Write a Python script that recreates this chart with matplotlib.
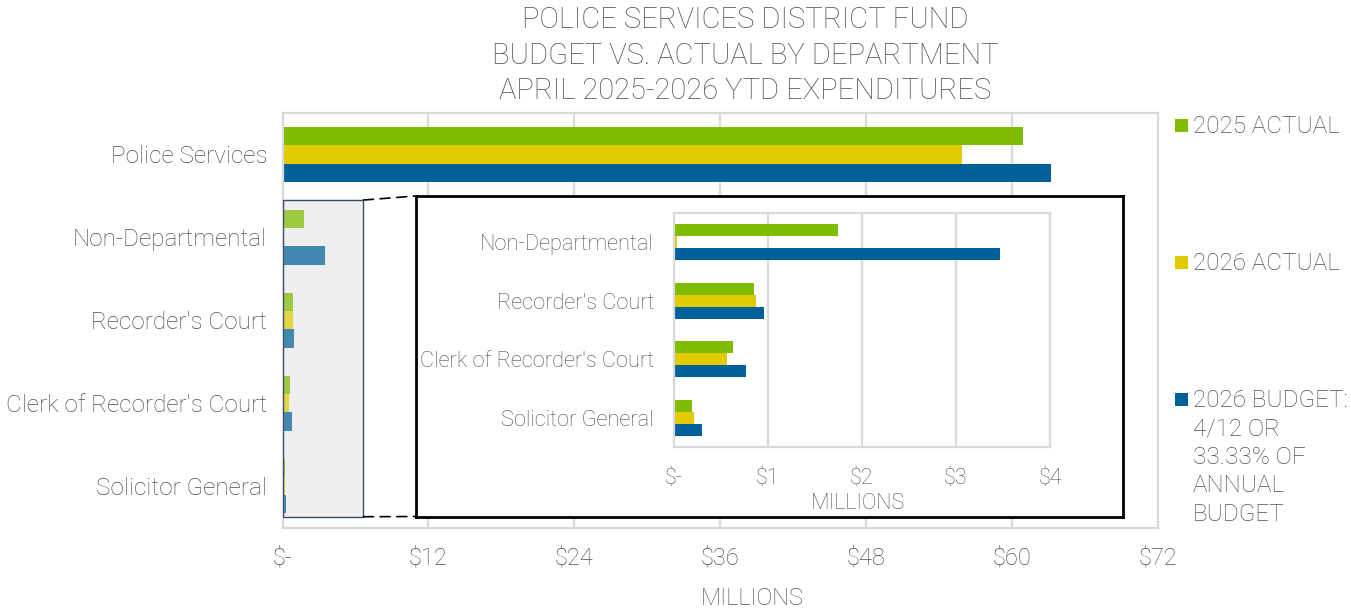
import matplotlib
matplotlib.use("Agg")
import matplotlib.pyplot as plt
from matplotlib.patches import Rectangle, ConnectionPatch
from matplotlib.ticker import FuncFormatter

plt.rcParams['font.family'] = ['Roboto', 'DejaVu Sans']
plt.rcParams['font.weight'] = 'light'
plt.rcParams['axes.labelweight'] = 'light'

# ---- data (millions of dollars) ----
categories = ["Police Services", "Non-Departmental", "Recorder's Court",
              "Clerk of Recorder's Court", "Solicitor General"]
actual_2025 = [60.9, 1.75, 0.86, 0.63, 0.20]
actual_2026 = [55.9, 0.04, 0.88, 0.57, 0.22]
budget_2026 = [63.2, 3.47, 0.96, 0.77, 0.30]
series_names = ["2025 ACTUAL", "2026 ACTUAL",
                "2026 BUDGET:\n4/12 OR\n33.33% OF\nANNUAL\nBUDGET"]
main_ticks = [0, 12, 24, 36, 48, 60, 72]
inset_ticks = [0, 1, 2, 3, 4]
title_lines = ["POLICE SERVICES DISTRICT FUND",
               "BUDGET VS. ACTUAL BY DEPARTMENT",
               "APRIL 2025-2026 YTD EXPENDITURES"]

colors = ["#7fbc00", "#e0cc00", "#00619a"]
text_color = "#505050"
grid_color = "#d9d9d9"

W, H = 1351, 610
fig = plt.figure(figsize=(W / 100, H / 100), dpi=100)


def px_rect(x0, y0, x1, y1):
    return [x0 / W, 1 - y1 / H, (x1 - x0) / W, (y1 - y0) / H]


def money(v, pos):
    return "$-" if v == 0 else f"${v:.0f}"


series = [actual_2025, actual_2026, budget_2026]

# ---- main chart ----
ax = fig.add_axes(px_rect(282.5, 113, 1158, 527.5))
bar_h = 0.22
for k, vals in enumerate(series):
    ys = [i + (k - 1) * bar_h for i in range(len(categories))]
    ax.barh(ys, vals, height=bar_h, color=colors[k], zorder=2)
ax.set_ylim(len(categories) - 0.5, -0.5)
ax.set_xlim(main_ticks[0], main_ticks[-1])
ax.set_xticks(main_ticks)
ax.xaxis.set_major_formatter(FuncFormatter(money))
ax.set_yticks(range(len(categories)))
ax.set_yticklabels(categories)
ax.tick_params(axis="y", length=0, pad=11, labelsize=17.5, labelcolor=text_color)
ax.tick_params(axis="x", length=0, pad=14, labelsize=17, labelcolor=text_color)
ax.grid(axis="x", color=grid_color, lw=1.6)
ax.set_axisbelow(True)
for s in ax.spines.values():
    s.set_color(grid_color)
    s.set_linewidth(1.6)
ax.set_xlabel("MILLIONS", fontsize=17, color=text_color, labelpad=12,
              fontweight="light")
ax.xaxis.label.set_x(0.537)

# zoom highlight over the small departments
zx1, zy0, zy1 = 6.66, 0.55, 4.37
ax.add_patch(Rectangle((0, zy0), zx1, zy1 - zy0, facecolor="#efefef",
                       edgecolor="none", zorder=1))
ax.add_patch(Rectangle((0, zy0), zx1, zy1 - zy0, facecolor="#efefef",
                       alpha=0.28, edgecolor="none", zorder=3))
ax.add_patch(Rectangle((0, zy0), zx1, zy1 - zy0, facecolor="none",
                       edgecolor="#3c4a6a", lw=1.0, zorder=4))

# ---- inset frame ----
box = fig.add_axes(px_rect(415.5, 196, 1122.5, 516.5), zorder=5)
box.set_facecolor("white")
box.set_xticks([])
box.set_yticks([])
for s in box.spines.values():
    s.set_color("black")
    s.set_linewidth(2)

for xyB in [(0, 1), (0, 0)]:
    xyA = (zx1, zy0) if xyB[1] == 1 else (zx1, zy1)
    con = ConnectionPatch(xyA=xyA, coordsA=ax.transData, xyB=xyB,
                          coordsB=box.transAxes, color="black", lw=1.2,
                          linestyle=(0, (6, 4)))
    fig.add_artist(con)

# ---- inset chart ----
ins = fig.add_axes(px_rect(673.5, 213, 1050, 447), zorder=6)
sub = categories[1:]
in_h = 0.205
for k, vals in enumerate(series):
    ys = [i + (k - 1) * in_h for i in range(len(sub))]
    ins.barh(ys, vals[1:], height=in_h, color=colors[k], zorder=2)
ins.set_ylim(len(sub) - 0.5, -0.5)
ins.set_xlim(inset_ticks[0], inset_ticks[-1])
ins.set_xticks(inset_ticks)
ins.xaxis.set_major_formatter(FuncFormatter(money))
ins.set_yticks(range(len(sub)))
ins.set_yticklabels(sub)
ins.tick_params(axis="y", length=0, pad=14, labelsize=15.7, labelcolor=text_color)
ins.tick_params(axis="x", length=0, pad=15, labelsize=15.5, labelcolor=text_color)
ins.grid(axis="x", color=grid_color, lw=1.6)
ins.set_axisbelow(True)
for s in ins.spines.values():
    s.set_color(grid_color)
    s.set_linewidth(1.6)
ins.set_xlabel("MILLIONS", fontsize=15.5, color=text_color, labelpad=3,
               fontweight="light")
ins.xaxis.label.set_x(0.49)

# ---- legend ----
leg_y = [125.5, 262.7, 399.5]
for k, name in enumerate(series_names):
    yc = leg_y[k]
    fig.add_artist(Rectangle((1175 / W, 1 - (yc + 6.3) / H), 12.6 / W, 12.6 / H,
                             transform=fig.transFigure, facecolor=colors[k],
                             edgecolor="none"))
    fig.text(1193 / W, 1 - (yc - 10.5) / H, name, fontsize=17.5, color=text_color,
             ha="left", va="top", linespacing=1.3)

# ---- title ----
fig.text(745 / W, 1 - 55.5 / H, "\n".join(title_lines), fontsize=21,
         color=text_color, ha="center", va="center", linespacing=1.35)

fig.savefig("out.png", dpi=100)
